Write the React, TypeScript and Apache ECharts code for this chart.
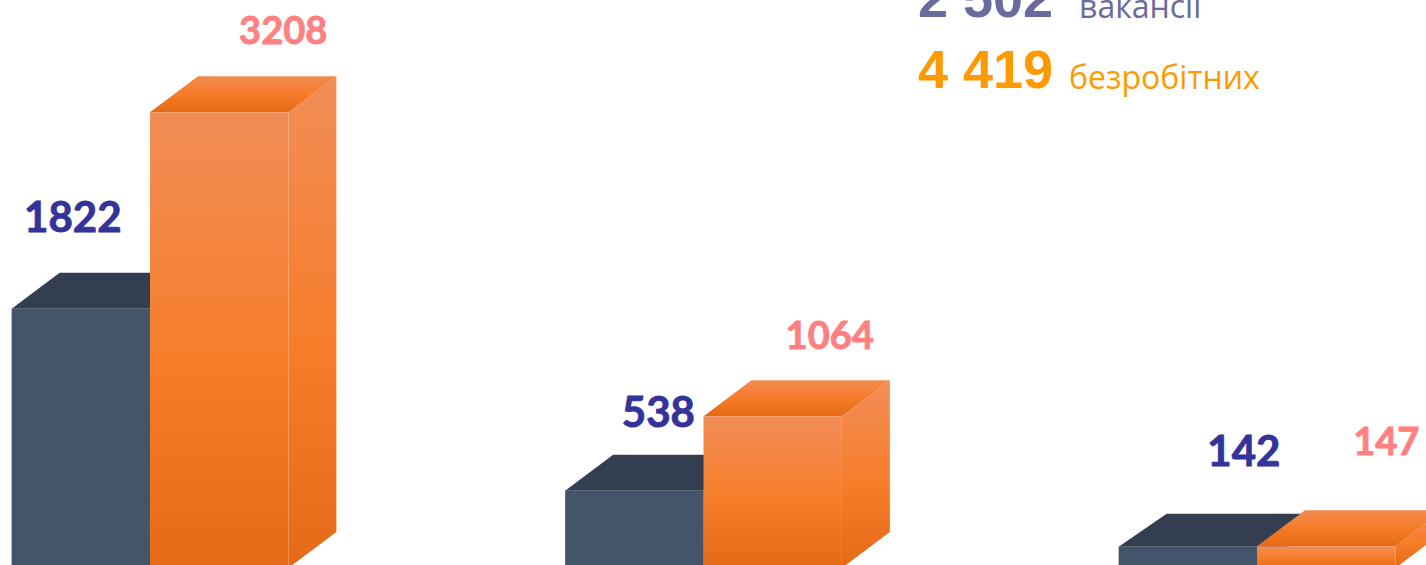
import React, { useEffect, useRef } from "react";
import * as echarts from "echarts";

const categories = ["Група 1", "Група 2", "Група 3"];
const vacancies = [1822, 538, 142];
const unemployed = [3208, 1064, 147];
const summaryVacancies = "2 502";
const summaryVacanciesLabel = "вакансії";
const summaryUnemployed = "4 419";
const summaryUnemployedLabel = "безробітних";

const DEPTH_X = 48;
const DEPTH_Y = 36;
const vacancyLabelShift = [[-8, -93], [24, -80], [56, -97]];
const unemployedLabelShift = [[64, -83], [57, -82], [60, -106]];

const orangeFace = () =>
  new echarts.graphic.LinearGradient(0, 0, 0, 1, [
    { offset: 0, color: "#F28D56" },
    { offset: 0.55, color: "#F67D2A" },
    { offset: 1, color: "#E56A17" },
  ]);
const orangeTop = () =>
  new echarts.graphic.LinearGradient(0, 0, 0, 1, [
    { offset: 0, color: "#F28B50" },
    { offset: 0.5, color: "#F67B28" },
    { offset: 1, color: "#E56A15" },
  ]);

function box(params: any, api: any, kind: "dark" | "orange") {
  const i = params.dataIndex;
  const [cx, yTop] = api.coord([api.value(0), api.value(1)]);
  const [, y0] = api.coord([api.value(0), 0]);
  const w = api.size([1, 0])[0] * 0.25;
  const xl = kind === "dark" ? cx - w : cx;
  const xr = xl + w;
  const dy = kind === "dark" && i === 2 ? DEPTH_Y - 3 : DEPTH_Y;
  const yBase = y0 + 1;
  const face = kind === "dark" ? "#44546A" : orangeFace();
  const side = kind === "dark" ? "#3B4A5E" : orangeFace();
  const top = kind === "dark" ? "#333F50" : orangeTop();
  const shift = (kind === "dark" ? vacancyLabelShift : unemployedLabelShift)[i];
  const center = (xl + xr) / 2;
  const textColor = kind === "dark" ? "#333399" : "#FF8080";
  return {
    type: "group",
    children: [
      {
        type: "polygon",
        shape: { points: [[xr, yTop], [xr + DEPTH_X, yTop - dy], [xr + DEPTH_X, yBase - dy], [xr, yBase]] },
        style: { fill: side },
      },
      {
        type: "polygon",
        shape: { points: [[xl, yTop], [xl + DEPTH_X, yTop - dy], [xr + DEPTH_X, yTop - dy], [xr, yTop]] },
        style: { fill: top },
      },
      {
        type: "rect",
        shape: { x: xl, y: yTop, width: w, height: yBase - yTop },
        style: { fill: face },
      },
      {
        type: "text",
        style: {
          x: center + shift[0],
          y: yTop + shift[1],
          text: String(api.value(1)),
          fill: textColor,
          stroke: textColor,
          lineWidth: 0.9,
          font: kind === "dark" ? "bold 42px Lato" : "bold 38px Lato",
          align: "center",
          verticalAlign: "middle",
        },
      },
    ],
  };
}

const summaryText = (x: number, y: number, text: string, fill: string, font: string) => ({
  type: "text",
  x,
  y,
  style: { text, fill, font, align: "left", verticalAlign: "middle" },
});

export default function App() {
  const ref = useRef<HTMLDivElement>(null);
  useEffect(() => {
    document.body.style.margin = "0";
    const chart = echarts.init(ref.current!, undefined, { renderer: "svg" });
    chart.setOption({
      animation: false,
      backgroundColor: "#FFFFFF",
      grid: { left: 0, top: 0, width: 1426, height: 565 },
      xAxis: { type: "value", min: -0.271, max: 2.3053, show: false },
      yAxis: { type: "value", min: 14, max: 4000, show: false },
      series: [
        {
          name: "Вакансії",
          type: "custom",
          clip: false,
          data: vacancies.map((v, i) => ({ name: categories[i], value: [i, v] })),
          encode: { x: 0, y: 1 },
          renderItem: (p: any, a: any) => box(p, a, "dark"),
        },
        {
          name: "Безробітні",
          type: "custom",
          clip: false,
          data: unemployed.map((v, i) => ({ name: categories[i], value: [i, v] })),
          encode: { x: 0, y: 1 },
          renderItem: (p: any, a: any) => box(p, a, "orange"),
        },
      ],
      graphic: [
        summaryText(918, -2, summaryVacancies, "#6A6A9E", 'bold 54px "Liberation Sans"'),
        summaryText(1079, 5, summaryVacanciesLabel, "#6A6A9E", '32px "Open Sans"'),
        summaryText(918, 69, summaryUnemployed, "#FF9900", 'bold 54px "Liberation Sans"'),
        summaryText(1069, 76, summaryUnemployedLabel, "#FF9900", '32px "Open Sans"'),
      ],
    });
    return () => chart.dispose();
  }, []);
  return <div ref={ref} style={{ width: 1426, height: 565, overflow: "hidden" }} />;
}
